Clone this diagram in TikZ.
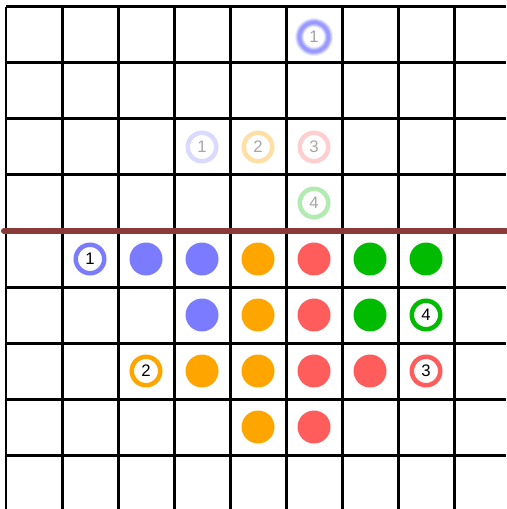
\documentclass[tikz,border=0pt]{standalone}
\usepackage{fontspec}
\setmainfont{Liberation Sans}
\usepackage{tikz}
\usetikzlibrary{positioning}

\definecolor{pblue}{HTML}{7B7BFF}
\definecolor{porange}{HTML}{FFA500}
\definecolor{pred}{HTML}{FF5C5C}
\definecolor{pgreen}{HTML}{00BB00}
\definecolor{wall}{HTML}{8B3A3A}

\tikzset{
    dot/.style={circle, fill=#1, inner sep=0pt, minimum size=0.66cm},
    ring/.style={circle, draw=#1, line width=0.09cm, fill=white, inner sep=0pt,
        minimum size=0.57cm, font=\fontsize{9.5}{10}\selectfont},
    ghost/.style={ring=#1, text=black!35}
}

\begin{document}
\begin{tikzpicture}[x=0.02cm, y=-0.02cm]
    \useasboundingbox (0,0) rectangle (506,509);
    % 1. Lưới ô vuông
    \foreach \i in {0,...,8} {
        \draw[line width=0.06cm] (6+56*\i,7) -- (6+56*\i,509);
        \draw[line width=0.06cm] (6,7+56*\i) -- (506,7+56*\i);
    }

    % 2. Đường ngăn
    \draw[wall, line width=0.12cm, line cap=round] (4,231) -- (506,231);

    % 3. Vị trí mờ phía trên
    \foreach \w/\o in {0.18/0.15, 0.14/0.25, 0.10/0.35, 0.06/0.45}
        \draw[pblue, line width=\w cm, opacity=\o] (314,37) circle (14.5);
    \fill[white] (314,37) circle (10);
    \node[text=black!60, font=\fontsize{9.5}{10}\selectfont, opacity=0.6] (g0) at (314,37) {1};

    \node[ghost=pblue!28] (g1) at (202,147) {1};
    \node[ghost=porange!35] (g2) at (258,147) {2};
    \node[ghost=pred!30] (g3) at (314,147) {3};
    \node[ghost=pgreen!30] (g4) at (314,203) {4};

    % 4. Hàng thứ nhất
    \node[ring=pblue] (r1) at (90,259) {1};
    \node[dot=pblue] (b1) at (146,259) {};
    \node[dot=pblue] (b2) at (202,259) {};
    \node[dot=porange] (o1) at (258,259) {};
    \node[dot=pred] (d1) at (314,259) {};
    \node[dot=pgreen] (n1) at (370,259) {};
    \node[dot=pgreen] (n2) at (426,259) {};

    % 5. Hàng thứ hai
    \node[dot=pblue] (b3) at (202,315) {};
    \node[dot=porange] (o2) at (258,315) {};
    \node[dot=pred] (d2) at (314,315) {};
    \node[dot=pgreen] (n3) at (370,315) {};
    \node[ring=pgreen] (r4) at (426,315) {4};

    % 6. Hàng thứ ba
    \node[ring=porange] (r2) at (146,371) {2};
    \node[dot=porange] (o3) at (202,371) {};
    \node[dot=porange] (o4) at (258,371) {};
    \node[dot=pred] (d3) at (314,371) {};
    \node[dot=pred] (d4) at (370,371) {};
    \node[ring=pred] (r3) at (426,371) {3};

    % 7. Hàng thứ tư
    \node[dot=porange] (o5) at (258,427) {};
    \node[dot=pred] (d5) at (314,427) {};
\end{tikzpicture}
\end{document}
